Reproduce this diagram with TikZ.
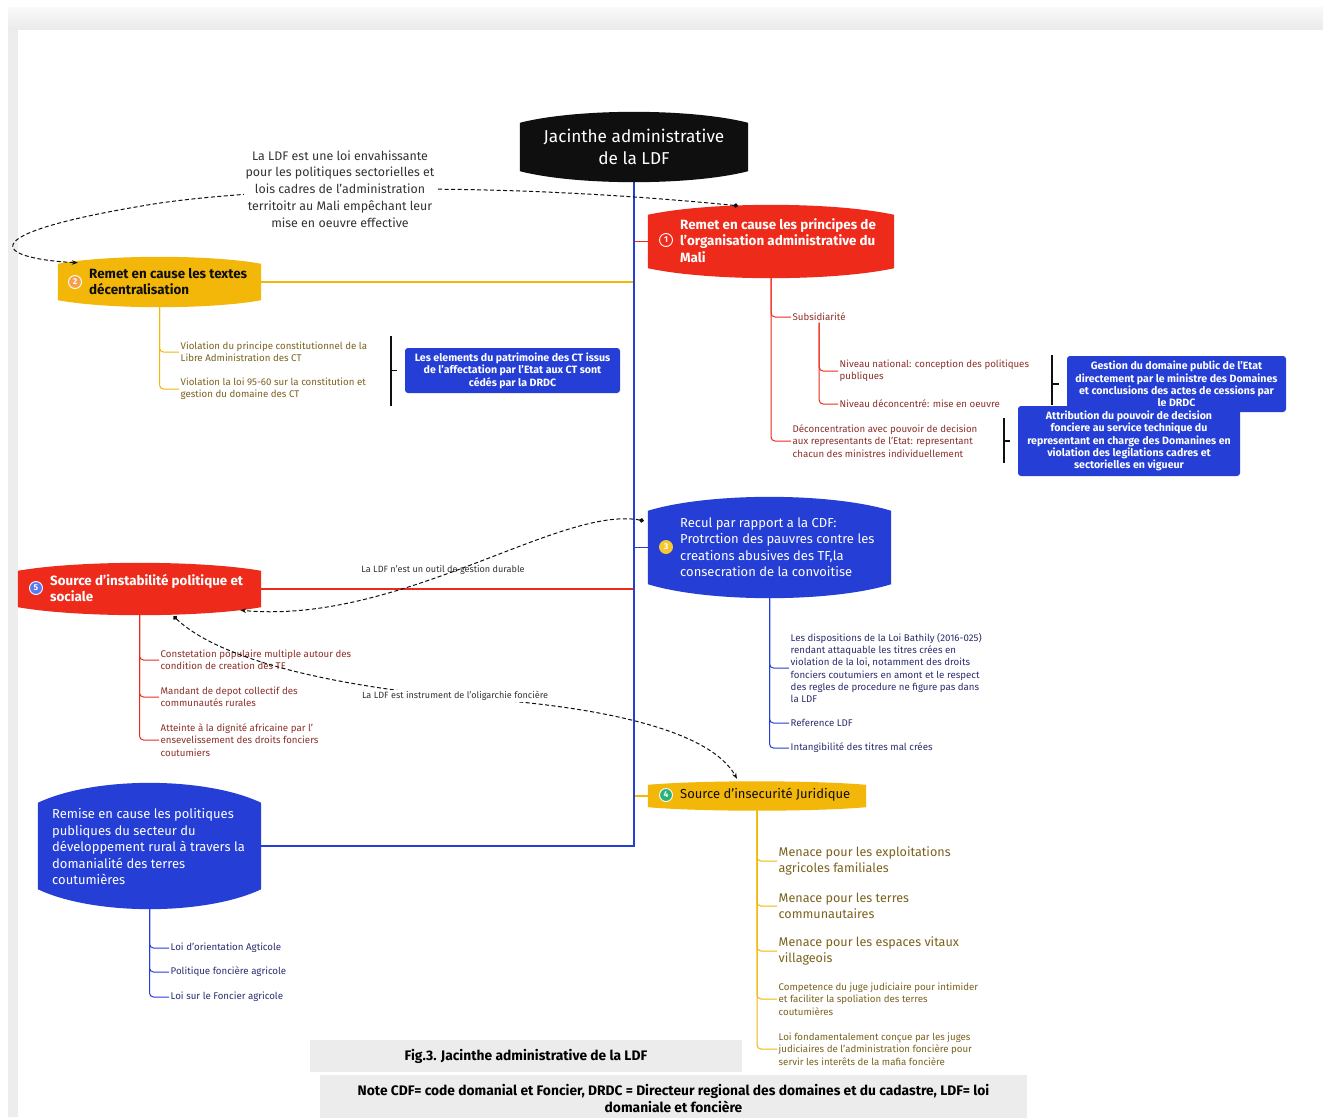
\documentclass[tikz,border=0pt]{standalone}
\usepackage{fontspec}
\setmainfont{Fira Sans}
\usetikzlibrary{arrows.meta,calc}
\definecolor{cherry}{RGB}{238,42,27}
\definecolor{saffron}{RGB}{242,183,8}
\definecolor{royal}{RGB}{36,62,214}
\definecolor{ink}{RGB}{15,15,15}
\definecolor{wine}{RGB}{140,48,42}
\definecolor{mustard}{RGB}{122,98,30}
\definecolor{navy}{RGB}{44,46,112}
\definecolor{paper}{RGB}{236,236,236}
\definecolor{tangerine}{RGB}{247,160,75}
\definecolor{mint}{RGB}{40,180,120}
\definecolor{sky}{RGB}{90,120,240}
\definecolor{lemon}{RGB}{245,200,50}

\tikzset{
  body/.style={inner sep=0pt},
  head/.style={anchor=west, align=left, inner sep=0pt, text=white, font=\fontsize{13}{16.5}\selectfont},
  headb/.style={head, font=\fontsize{13.4}{16.5}\selectfont\bfseries},
  sub/.style={anchor=west, align=left, inner sep=1.5pt, font=\fontsize{9.7}{12.3}\selectfont},
  bigsub/.style={sub, font=\fontsize{12.6}{16}\selectfont},
  numc/.style={circle, inner sep=0pt, minimum size=13pt, draw=white, line width=0.9pt, text=white, font=\fontsize{8.5}{8.5}\selectfont\bfseries},
  branch/.style={line width=1.6pt},
  twig/.style={line width=1pt, rounded corners=4pt},
  brace/.style={line width=1.2pt, ink},
  summ/.style={fill=royal, rounded corners=3pt, text=white, align=center, inner sep=0pt, font=\fontsize{10.6}{12.4}\selectfont\bfseries},
  link/.style={ink, line width=1pt, dash pattern=on 4pt off 2.5pt, {Circle[length=4.5pt]}-{Stealth[length=6pt]}},
  linklabel/.style={text=ink!85, align=center},
  note/.style={fill=paper, align=center, inner sep=0pt, font=\fontsize{13.8}{17}\selectfont\bfseries}
}

\begin{document}
\begin{tikzpicture}[x=1pt,y=-1pt]
  \useasboundingbox (0,0) rectangle (1323,1117);
  % page frame
  \fill[gray!14] (8,7) rectangle (1323,1117);
  \shade[top color=gray!5, bottom color=gray!16] (8,7) rectangle (1323,30);
  \fill[white] (18,30) rectangle (1323,1117);

  % topic bodies
  \foreach \n/\x/\y/\w/\h in {root/634/147/228/48, n1/771/241.5/246/53, n2/159.5/282/203/36,
      n3/769.5/547.5/243/73, n4/757/796/218/22, n5/139.5/589/243/36, n6/149.5/846/223/86}
    \node[body, minimum width=\w pt, minimum height=\h pt] (\n) at (\x,\y) {};

  % branches and trunk
  \draw[branch, cherry] (n1.west) -- (n1.west -| root.south);
  \draw[branch, saffron] (n2.east) -- (n2.east -| root.south);
  \draw[branch, royal] (n3.west) -- (n3.west -| root.south);
  \draw[branch, saffron] (n4.west) -- (n4.west -| root.south);
  \draw[branch, cherry] (n5.east) -- (n5.east -| root.south);
  \draw[branch, royal] (root.south) -- (root.south |- n6.east) -- (n6.east);

  % bulging shapes
  \foreach \n/\c/\b in {root/ink/11pt, n1/cherry/10pt, n2/saffron/7pt, n3/royal/14pt,
      n4/saffron/3.5pt, n5/cherry/8pt, n6/royal/20pt}
    \fill[\c] (\n.north west) -- (\n.south west)
      .. controls ($(\n.south west)!.25!(\n.south east)-(0,1.33*\b)$) and ($(\n.south west)!.75!(\n.south east)-(0,1.33*\b)$) .. (\n.south east)
      -- (\n.north east)
      .. controls ($(\n.north west)!.75!(\n.north east)+(0,1.33*\b)$) and ($(\n.north west)!.25!(\n.north east)+(0,1.33*\b)$) .. (\n.north west) -- cycle;

  % numbers
  \node[numc] (k1) at (666,240) {1};
  \node[numc, fill=tangerine] (k2) at (75,282) {2};
  \node[numc, fill=lemon, draw=lemon] (k3) at (666,547) {3};
  \node[numc, fill=mint] (k4) at (666,795) {4};
  \node[numc, fill=sky] (k5) at (36,588) {5};

  % topic texts
  \node[text=white, align=center, inner sep=0pt, font=\fontsize{17.2}{22}\selectfont] (roott) at (root) {Jacinthe administrative\\de la LDF};
  \node[headb] (n1t) at (680,240.5) {Remet en cause les principes de\\l'organisation administrative du\\Mali};
  \node[headb, text=ink] (n2t) at (89,281.5) {Remet en cause les textes\\décentralisation};
  \node[head] (n3t) at (680,547) {Recul par rapport a la CDF:\\Protrction des pauvres contre les\\creations abusives des TF,la\\consecration de la convoitise};
  \node[head, text=ink] (n4t) at (680,795) {Source d'insecurité Juridique};
  \node[headb] (n5t) at (50,588) {Source d'instabilité politique et\\sociale};
  \node[head] (n6t) at (52,846.5) {Remise en cause les politiques\\publiques du secteur du\\développement rural à travers la\\domanialité des terres\\coutumières};

  % details of 1
  \foreach \n/\y/\txt in {c11/317/Subsidiarité, c12/441/{Déconcentration avec pouvoir de decision\\aux representants de l'Etat: representant\\chacun des ministres individuellement}}
  {
    \node[sub, wine] (\n) at (791,\y) {\txt};
    \draw[twig, cherry] (n1.south) |- (\n.west);
  }
  \foreach \n/\y/\txt in {c111/371/{Niveau national: conception des politiques\\publiques}, c112/404/{Niveau déconcentré: mise en oeuvre}}
  {
    \node[sub, wine] (\n) at (838,\y) {\txt};
    \draw[twig, cherry] (c11.south) |- (\n.west);
  }
  \node[summ, minimum width=219pt, minimum height=56pt] (s1a) at (1176.5,384) {Gestion du domaine public de l'Etat\\directement par le ministre des Domaines\\et conclusions des actes de cessions par\\le DRDC};
  \coordinate (b1a) at (1052,355);
  \draw[brace] (b1a) -- ++(0,50);
  \draw[brace] (b1a |- s1a.west) -- ++(7,0);
  \node[summ, minimum width=222pt, minimum height=70pt] (s1b) at (1129,441) {Attribution du pouvoir de decision\\fonciere au service technique du\\representant en charge des Domanines en\\violation des legilations cadres et\\sectorielles en vigueur};
  \coordinate (b1b) at (1004,418);
  \draw[brace] (b1b) -- ++(0,45);
  \draw[brace] (b1b |- s1b.west) -- ++(6,0);

  % details of 2
  \foreach \n/\y/\txt in {c21/352/{Violation du principe constitutionnel de la\\Libre Administration des CT}, c22/389/{Violation la loi 95-60 sur la constitution et\\gestion du domaine des CT}}
  {
    \node[sub, mustard] (\n) at (179,\y) {\txt};
    \draw[twig, saffron] (n2.south) |- (\n.west);
  }
  \node[summ, minimum width=215pt, minimum height=45pt] (s2) at (512.5,370.5) {Les elements du patrimoine des CT issus\\de l'affectation par l'Etat aux CT sont\\cédés par la DRDC};
  \coordinate (b2) at (391,336);
  \draw[brace] (b2) -- ++(0,70);
  \draw[brace] (b2 |- s2.west) -- ++(6,0);

  % details of 3
  \foreach \n/\y/\txt in {c31/668/{Les dispositions de la Loi Bathily (2016-025)\\rendant attaquable les titres crées en\\violation de la loi, notamment des droits\\fonciers coutumiers en amont et le respect\\des regles de procedure ne figure pas dans\\la LDF}, c32/723/Reference LDF, c33/748/Intangibilité des titres mal crées}
  {
    \node[sub, navy] (\n) at (789,\y) {\txt};
    \draw[twig, royal] (n3.south) |- (\n.west);
  }

  % details of 4
  \foreach \n/\y/\txt in {c41/861/{Menace pour les exploitations\\agricoles familiales}, c42/906/{Menace pour les terres\\communautaires}, c43/951/{Menace pour les espaces vitaux\\villageois}}
  {
    \node[bigsub, mustard] (\n) at (777,\y) {\txt};
    \draw[twig, saffron] (n4.south) |- (\n.west);
  }
  \foreach \n/\y/\txt in {c44/999/{Competence du juge judiciaire pour intimider\\et faciliter la spoliation des terres\\coutumières}, c45/1049/{Loi fondamentalement conçue par les juges\\judiciaires de l'administration foncière pour\\servir les interêts de la mafia foncière}}
  {
    \node[sub, mustard] (\n) at (777,\y) {\txt};
    \draw[twig, saffron] (n4.south) |- (\n.west);
  }

  % details of 5
  \foreach \n/\y/\txt in {c51/660/{Constetation populaire multiple autour des\\condition de creation des TF}, c52/697/{Mandant de depot collectif des\\communautés rurales}, c53/740/{Atteinte à la dignité africaine par l'\\ensevelissement des droits fonciers\\coutumiers}}
  {
    \node[sub, wine] (\n) at (159,\y) {\txt};
    \draw[twig, cherry] (n5.south) |- (\n.west);
  }

  % details of 6
  \foreach \n/\y/\txt in {c61/948/Loi d'orientation Agticole, c62/972/Politique foncière agricole, c63/997/Loi sur le Foncier agricole}
  {
    \node[sub, navy] (\n) at (169,\y) {\txt};
    \draw[twig, royal] (n6.south) |- (\n.west);
  }

  % relations
  \draw[link] ([xshift=-33pt,yshift=9pt]n1.north) .. controls (500,182) and (280,186) .. (160,203)
    .. controls (-30,233) and (-10,258) .. ([xshift=20pt,yshift=1pt]n2.north west);
  \node[linklabel, fill=white, inner sep=2pt, font=\fontsize{12.4}{16.8}\selectfont] (lbl1) at (340,189) {La LDF est une loi envahissante\\pour les politiques sectorielles et\\lois cadres de l'administration\\territoitr au Mali empêchant leur\\mise en oeuvre effective};

  \draw[link] ([xshift=-4pt,yshift=-10pt]n3.north west) .. controls (560,505) and (400,625) .. ([xshift=-21pt,yshift=-3pt]n5.south east);
  \node[linklabel, font=\fontsize{9.1}{10}\selectfont] (lbl2) at (443,570) {La LDF n'est un outil de gestion durable};

  \draw[link] ([xshift=34pt,yshift=-9pt]n5.south) .. controls (220,660) and (330,685) .. (455,697)
    .. controls (600,705) and (710,730) .. ([xshift=-20pt,yshift=6pt]n4.north);
  \node[linklabel, fill=white, inner sep=1pt, font=\fontsize{9.1}{10}\selectfont] (lbl3) at (455,696) {La LDF est instrument de l'oligarchie foncière};

  % captions
  \node[note, minimum width=432pt, minimum height=32pt] (cap1) at (526,1056) {Fig.3. Jacinthe administrative de la LDF};
  \node[note, minimum width=707pt, minimum height=47pt] (cap2) at (673.5,1098.5) {Note CDF= code domanial et Foncier, DRDC = Directeur regional des domaines et du cadastre, LDF= loi\\domaniale et foncière};
\end{tikzpicture}
\end{document}
